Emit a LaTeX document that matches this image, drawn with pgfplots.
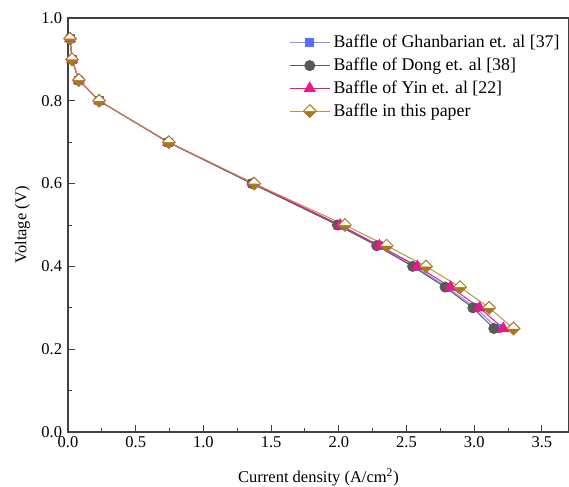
\documentclass[border=0pt]{standalone}
\usepackage{pgfplots}
\pgfplotsset{compat=1.18}
\usepackage{fontspec}
\setmainfont{LiberationSerif}[Extension=.ttf,UprightFont=*-Regular,BoldFont=*-Bold,ItalicFont=*-Italic,BoldItalicFont=*-BoldItalic]

\definecolor{cblue}{HTML}{5B6CFF}
\definecolor{cbluel}{HTML}{8090FF}
\definecolor{cgray}{HTML}{595959}
\definecolor{cpink}{HTML}{F0148C}
\definecolor{cgold}{HTML}{A8791C}
\definecolor{cgoldl}{HTML}{BC9342}

% diamond, lower half filled, upper half white
\pgfdeclareplotmark{halfdiamond}{%
  \pgfpathmoveto{\pgfqpoint{-\pgfplotmarksize}{0pt}}%
  \pgfpathlineto{\pgfqpoint{\pgfplotmarksize}{0pt}}%
  \pgfpathlineto{\pgfqpoint{0pt}{-\pgfplotmarksize}}%
  \pgfpathclose
  \pgfusepathqfill
  \pgfscope
  \pgfsetfillcolor{white}%
  \pgfpathmoveto{\pgfqpoint{-\pgfplotmarksize}{0pt}}%
  \pgfpathlineto{\pgfqpoint{\pgfplotmarksize}{0pt}}%
  \pgfpathlineto{\pgfqpoint{0pt}{\pgfplotmarksize}}%
  \pgfpathclose
  \pgfusepathqfill
  \endpgfscope
  \pgfpathmoveto{\pgfqpoint{0pt}{\pgfplotmarksize}}%
  \pgfpathlineto{\pgfqpoint{\pgfplotmarksize}{0pt}}%
  \pgfpathlineto{\pgfqpoint{0pt}{-\pgfplotmarksize}}%
  \pgfpathlineto{\pgfqpoint{-\pgfplotmarksize}{0pt}}%
  \pgfpathclose
  \pgfusepathqstroke
}

\begin{document}
\begin{tikzpicture}
\path[use as bounding box] (-40.8pt,-32.4pt) rectangle (300.6pt,259.2pt);
\begin{axis}[
    scale only axis,
    width=300.6pt,
    height=248.4pt,
    xmin=0, xmax=3.7,
    ymin=0, ymax=1.0,
    xtick={0,0.5,...,3.5},
    ytick={0,0.2,...,1.0},
    minor x tick num=1,
    minor y tick num=1,
    tick align=inside,
    xtick pos=bottom,
    ytick pos=left,
    major tick length=4.2pt,
    minor tick length=2.4pt,
    axis line style={black!75, line width=0.8pt},
    tick style={black!75, line width=0.6pt},
    xticklabel style={yshift=1pt, /pgf/number format/.cd, fixed, fixed zerofill, precision=1},
    yticklabel style={/pgf/number format/.cd, fixed, fixed zerofill, precision=1},
    /pgf/number format/assume math mode=true,
    tick label style={font=\fontsize{9.9}{11}\selectfont},
    label style={font=\fontsize{9.9}{11}\selectfont},
    xlabel={Current density (A/cm\textsuperscript{2})},
    xlabel style={yshift=-6pt},
    ylabel={Voltage (V)},
    legend style={
        at={(0.431,0.975)},
        anchor=north west,
        draw=none, fill=none,
        font=\fontsize{10.7}{12}\selectfont,
        cells={anchor=west},
        row sep=0.6pt,
    },
    legend image code/.code={%
        \draw[mark repeat=2,mark phase=2] plot coordinates {(0pt,0pt) (12pt,0pt) (24pt,0pt)};},
    every axis plot/.append style={line width=0.6pt},
]
\addplot[color=cbluel, mark=square*, mark size=2.4pt, mark options={fill=cblue, draw=cblue}]
    coordinates {(0.015,0.95) (0.03,0.9) (0.08,0.85) (0.23,0.8) (0.74,0.7) (1.36,0.6) (2.0,0.5) (2.29,0.45) (2.56,0.4) (2.80,0.35) (3.01,0.3) (3.17,0.25)};
\addlegendentry{Baffle of Ghanbarian et. al [37]}
\addplot[color=cgray, mark=*, mark size=3pt, mark options={fill=cgray}]
    coordinates {(0.015,0.95) (0.03,0.9) (0.08,0.85) (0.23,0.8) (0.74,0.7) (1.36,0.6) (1.99,0.5) (2.28,0.45) (2.545,0.4) (2.785,0.35) (2.99,0.3) (3.145,0.25)};
\addlegendentry{Baffle of Dong et. al [38]}
\addplot[color=cpink, mark=triangle*, mark size=3.6pt, mark options={fill=cpink}]
    coordinates {(0.015,0.95) (0.03,0.9) (0.08,0.85) (0.23,0.8) (0.74,0.7) (1.37,0.6) (2.01,0.5) (2.30,0.45) (2.58,0.4) (2.826,0.35) (3.04,0.3) (3.215,0.25)};
\addlegendentry{Baffle of Yin et. al [22]}
\addplot[color=cgoldl, mark=halfdiamond, mark size=3.8pt, mark options={fill=cgold, draw=cgold}]
    coordinates {(0.015,0.95) (0.03,0.9) (0.08,0.85) (0.23,0.8) (0.745,0.7) (1.375,0.6) (2.045,0.5) (2.353,0.45) (2.644,0.4) (2.895,0.35) (3.11,0.3) (3.29,0.25)};
\addlegendentry{Baffle in this paper}
\end{axis}
\end{tikzpicture}
\end{document}
